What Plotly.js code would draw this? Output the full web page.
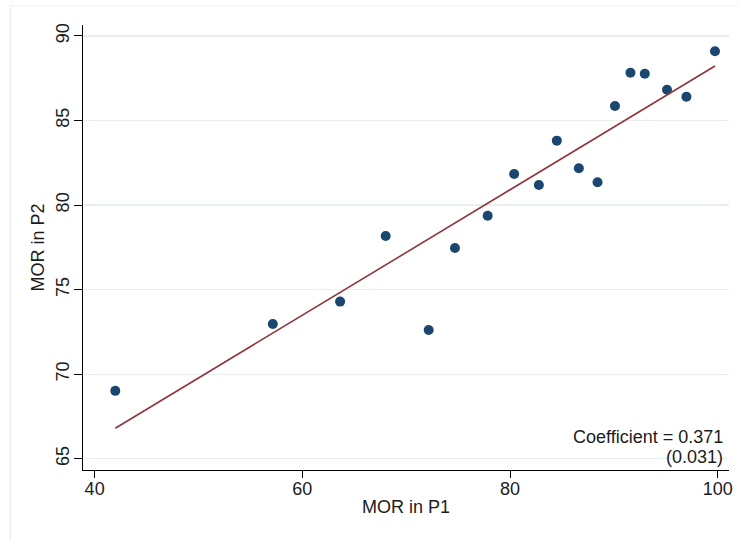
<!DOCTYPE html>
<html>
<head>
<meta charset="utf-8">
<script src="https://cdn.plot.ly/plotly-3.0.1.min.js"></script>
<style>
  html, body { margin: 0; padding: 0; background: #ffffff; }
  #chart { width: 738px; height: 541px; }
</style>
</head>
<body>
<div id="chart"></div>
<script>
// MOR by unit in period 1 (x) and period 2 (y)
const morP1 = [41.99, 57.16, 63.64, 68.03, 72.17, 74.70, 77.85, 80.40, 82.78,
               84.51, 86.63, 88.43, 90.11, 91.60, 92.98, 95.12, 96.99, 99.74];
const morP2 = [69.01, 72.97, 74.29, 78.17, 72.61, 77.46, 79.37, 81.84, 81.19,
               83.81, 82.18, 81.35, 85.86, 87.83, 87.77, 86.82, 86.41, 89.10];

// Reported slope and its standard error
const coefficient = 0.371;
const stdError = 0.031;

const xTicks = [40, 60, 80, 100];
const yTicks = [65, 70, 75, 80, 85, 90];

// Fitted line through the sample means with the reported slope
const mean = a => a.reduce((s, v) => s + v, 0) / a.length;
const intercept = mean(morP2) - coefficient * mean(morP1);
const xMin = Math.min(...morP1), xMax = Math.max(...morP1);
const fitX = [xMin, xMax];
const fitY = fitX.map(x => intercept + coefficient * x);

const FONT = 'Liberation Sans, Arial, sans-serif';
const TXT = '#1c1c1c';

const traces = [
  {
    x: morP1, y: morP2, type: 'scatter', mode: 'markers',
    marker: { color: '#1a476f', size: 10, line: { width: 0 } },
    hoverinfo: 'x+y', showlegend: false
  },
  {
    x: fitX, y: fitY, type: 'scatter', mode: 'lines',
    line: { color: '#90353b', width: 1.6 },
    hoverinfo: 'skip', showlegend: false
  }
];

const layout = {
  width: 738, height: 541,
  margin: { l: 83, r: 9, t: 25, b: 71, pad: 0 },
  paper_bgcolor: '#ffffff', plot_bgcolor: '#ffffff',
  font: { family: FONT, size: 18, color: TXT },
  showlegend: false,
  xaxis: {
    range: [38.88, 101.09],
    tickvals: xTicks, ticktext: xTicks.map(String),
    ticks: 'outside', ticklen: 7, tickwidth: 1, tickcolor: '#000',
    ticklabelstandoff: -5,
    showline: true, linecolor: '#000', linewidth: 1.3, mirror: false,
    showgrid: false, zeroline: false,
    tickfont: { family: FONT, size: 18, color: TXT },
    title: { text: 'MOR in P1', font: { family: FONT, size: 18, color: TXT }, standoff: 2 }
  },
  yaxis: {
    range: [64.33, 90.65],
    tickvals: yTicks, ticktext: yTicks.map(String),
    tickangle: -90,
    ticks: 'outside', ticklen: 8, tickwidth: 1, tickcolor: '#000',
    ticklabelstandoff: -2,
    showline: true, linecolor: '#000', linewidth: 1.3, mirror: false,
    showgrid: true, gridcolor: '#e9eeee', gridwidth: 1.2, zeroline: false,
    tickfont: { family: FONT, size: 18, color: TXT },
    title: { text: 'MOR in P2', font: { family: FONT, size: 18, color: TXT }, standoff: 3 }
  },
  shapes: [
    // light outer frame (top and left edges)
    { type: 'line', xref: 'paper', yref: 'paper', x0: -0.1124, x1: 1.1, y0: 1.0427, y1: 1.0427,
      line: { color: '#eceff0', width: 1.2 } },
    { type: 'line', xref: 'paper', yref: 'paper', x0: -0.1124, x1: -0.1124, y0: 1.0427, y1: -0.2,
      line: { color: '#eceff0', width: 1.2 } }
  ],
  annotations: [
    { xref: 'paper', yref: 'paper', x: 0.9934, y: 0.0748, xanchor: 'right', yanchor: 'middle',
      text: 'Coefficient = ' + coefficient.toFixed(3), showarrow: false,
      font: { family: FONT, size: 18, color: TXT } },
    { xref: 'paper', yref: 'paper', x: 0.9934, y: 0.0299, xanchor: 'right', yanchor: 'middle',
      text: '(' + stdError.toFixed(3) + ')', showarrow: false,
      font: { family: FONT, size: 18, color: TXT } }
  ]
};

Plotly.newPlot('chart', traces, layout, { displayModeBar: false, staticPlot: true });
</script>
</body>
</html>
